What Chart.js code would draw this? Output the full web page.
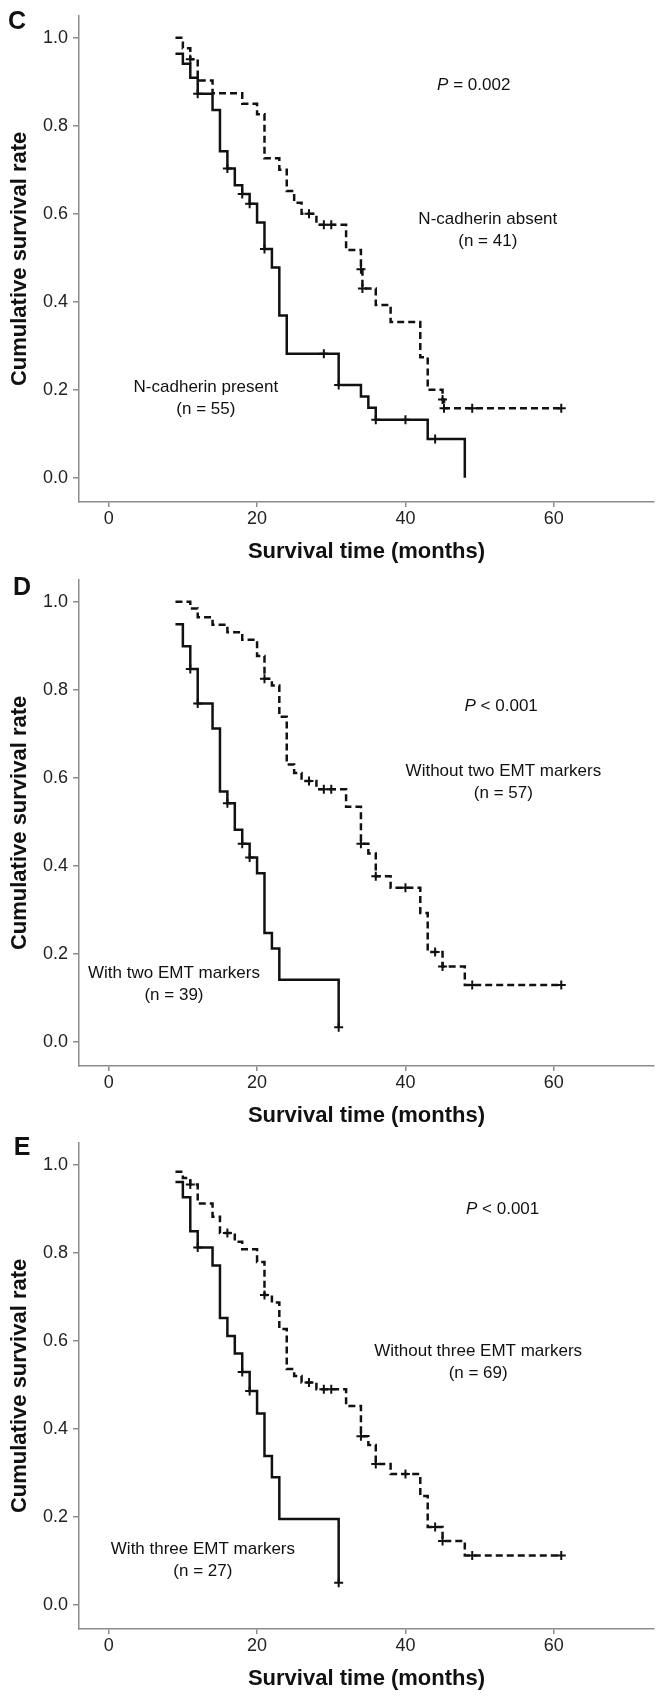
<!DOCTYPE html>
<html lang="en">
<head>
    <meta charset="UTF-8">
    <title>Kaplan-Meier survival curves</title>
    <script src="https://cdn.jsdelivr.net/npm/chart.js@4"></script>
    <style>
        body {
            margin: 0;
            background: #fff;
        }

        .panel {
            position: absolute;
            left: 0;
            width: 666px;
            height: 564px;
        }
    </style>
</head>
<body>
    <div class="panel" style="top:0px"><canvas id="chartC" width="666" height="564"></canvas></div>
    <div class="panel" style="top:564px"><canvas id="chartD" width="666" height="564"></canvas></div>
    <div class="panel" style="top:1127px"><canvas id="chartE" width="666" height="564"></canvas></div>
    <script>
        const xTicks = [0, 20, 40, 60];
        const yTicks = [0, 0.2, 0.4, 0.6, 0.8, 1.0];

        // panel C - N-cadherin
        const cAbsentTime = [9, 10, 11, 12, 14, 18, 20, 21, 23, 24, 25, 26, 28, 32, 34, 34.2, 36, 38, 42, 43, 45, 45.2];
        const cAbsentSurv = [1.0, 0.976, 0.951, 0.903, 0.874, 0.85, 0.826, 0.726, 0.70, 0.652, 0.625, 0.60, 0.575, 0.518, 0.474, 0.43, 0.393, 0.354, 0.274, 0.2, 0.178, 0.158];
        const cAbsentCensorTime = [11, 27, 29, 30, 34, 34.2, 45, 45.2, 49, 61];
        const cAbsentCensorSurv = [0.951, 0.60, 0.575, 0.575, 0.474, 0.43, 0.178, 0.158, 0.158, 0.158];

        const cPresentTime = [9, 10, 11, 12, 14, 15, 16, 17, 18, 19, 20, 21, 22, 23, 24, 31, 34, 35, 36, 43, 48];
        const cPresentSurv = [0.964, 0.941, 0.909, 0.873, 0.836, 0.742, 0.703, 0.665, 0.645, 0.623, 0.58, 0.52, 0.478, 0.369, 0.282, 0.211, 0.185, 0.159, 0.132, 0.088, 0];
        const cPresentCensorTime = [12, 16, 18, 19, 21, 29, 31, 36, 40, 44];
        const cPresentCensorSurv = [0.873, 0.703, 0.645, 0.623, 0.52, 0.282, 0.211, 0.132, 0.132, 0.088];

        // panel D - two EMT markers
        const dWithoutTime = [9, 11, 12, 14, 16, 18, 20, 21, 22, 23, 24, 25, 26, 28, 32, 34, 35, 36, 38, 42, 43, 45, 48];
        const dWithoutSurv = [1.0, 0.985, 0.965, 0.948, 0.931, 0.914, 0.877, 0.825, 0.81, 0.739, 0.63, 0.611, 0.593, 0.574, 0.534, 0.45, 0.428, 0.376, 0.35, 0.293, 0.204, 0.171, 0.129];
        const dWithoutCensorTime = [21, 27, 29, 30, 34, 36, 40, 44, 45, 49, 61];
        const dWithoutCensorSurv = [0.825, 0.593, 0.574, 0.574, 0.45, 0.376, 0.35, 0.204, 0.171, 0.129, 0.129];

        const dWithTime = [9, 10, 11, 12, 14, 15, 16, 17, 18, 19, 20, 21, 22, 23, 31];
        const dWithSurv = [0.949, 0.899, 0.847, 0.769, 0.712, 0.569, 0.542, 0.482, 0.45, 0.419, 0.383, 0.247, 0.212, 0.141, 0.033];
        const dWithCensorTime = [11, 12, 16, 18, 19, 31];
        const dWithCensorSurv = [0.847, 0.769, 0.542, 0.45, 0.419, 0.033];

        // panel E - three EMT markers
        const eWithoutTime = [9, 10, 11, 12, 14, 15, 17, 18, 20, 21, 22, 23, 24, 25, 26, 28, 32, 34, 35, 36, 38, 42, 43, 45, 48];
        const eWithoutSurv = [0.984, 0.97, 0.955, 0.912, 0.882, 0.845, 0.825, 0.808, 0.779, 0.704, 0.687, 0.627, 0.536, 0.52, 0.505, 0.49, 0.452, 0.383, 0.363, 0.32, 0.297, 0.247, 0.177, 0.145, 0.112];
        const eWithoutCensorTime = [11, 16, 21, 27, 29, 30, 34, 36, 40, 44, 45, 49, 61];
        const eWithoutCensorSurv = [0.955, 0.845, 0.704, 0.505, 0.49, 0.49, 0.383, 0.32, 0.297, 0.177, 0.145, 0.112, 0.112];

        const eWithTime = [9, 10, 11, 12, 14, 15, 16, 17, 18, 19, 20, 21, 22, 23, 31];
        const eWithSurv = [0.961, 0.926, 0.849, 0.812, 0.771, 0.652, 0.611, 0.571, 0.529, 0.486, 0.435, 0.338, 0.29, 0.195, 0.05];
        const eWithCensorTime = [12, 18, 19, 31];
        const eWithCensorSurv = [0.812, 0.529, 0.486, 0.05];

        const FONT = '"Liberation Sans", Arial, sans-serif';
        const AXIS_GREY = '#8c8c8c';

        // letters and text labels drawn on top of each chart
        const notesPlugin = {
            id: 'notes',
            afterDraw(chart, args, opts) {
                const ctx = chart.ctx;
                const xs = chart.scales.x;
                const ys = chart.scales.y;
                ctx.save();
                ctx.fillStyle = '#111';
                ctx.textBaseline = 'middle';
                ctx.textAlign = 'center';
                ctx.font = 'bold 25px ' + FONT;
                ctx.fillText(opts.letter, opts.letterX, opts.letterY);

                opts.notes.forEach(n => {
                    const px = xs.getPixelForValue(n.x);
                    const py = ys.getPixelForValue(n.y);
                    n.lines.forEach((line, i) => {
                        const y = py + i * 22;
                        if (line.startsWith('P ')) {
                            // italic P, rest upright
                            ctx.font = 'italic 17px ' + FONT;
                            const wP = ctx.measureText('P').width;
                            ctx.font = '17px ' + FONT;
                            const rest = line.slice(1);
                            const wRest = ctx.measureText(rest).width;
                            const start = px - (wP + wRest) / 2;
                            ctx.textAlign = 'left';
                            ctx.font = 'italic 17px ' + FONT;
                            ctx.fillText('P', start, y);
                            ctx.font = '17px ' + FONT;
                            ctx.fillText(rest, start + wP, y);
                            ctx.textAlign = 'center';
                        } else {
                            ctx.font = '17px ' + FONT;
                            ctx.fillText(line, px, y);
                        }
                    });
                });
                ctx.restore();
            }
        };

        function curve(time, surv, censorTime, dashed) {
            const pts = time.map((t, i) => ({ x: t, y: surv[i] }));
            const lastCensor = censorTime[censorTime.length - 1];
            if (lastCensor > time[time.length - 1]) {
                pts.push({ x: lastCensor, y: surv[surv.length - 1] });
            }
            return {
                type: 'line',
                data: pts,
                stepped: 'before',
                borderColor: '#111',
                borderWidth: 2.5,
                borderDash: dashed ? [7, 4] : [],
                borderCapStyle: 'butt',
                pointRadius: 0,
                fill: false,
                tension: 0
            };
        }

        function censors(time, surv) {
            return {
                type: 'scatter',
                data: time.map((t, i) => ({ x: t, y: surv[i] })),
                pointStyle: 'cross',
                pointRadius: 4.5,
                pointBorderWidth: 2,
                borderColor: '#111',
                backgroundColor: '#111'
            };
        }

        function makeChart(id, datasets, letter, letterX, letterY, notes) {
            return new Chart(document.getElementById(id), {
                type: 'line',
                data: { datasets: datasets },
                options: {
                    responsive: false,
                    animation: false,
                    layout: { padding: { top: 8, right: 12, left: 0, bottom: 0 } },
                    plugins: {
                        legend: { display: false },
                        tooltip: { enabled: false },
                        notes: { letter: letter, letterX: letterX, letterY: letterY, notes: notes }
                    },
                    scales: {
                        x: {
                            type: 'linear',
                            min: -4,
                            max: 73.5,
                            afterBuildTicks: s => { s.ticks = xTicks.map(v => ({ value: v })); },
                            afterFit: s => { s.height = 62; },
                            ticks: {
                                font: { family: FONT, size: 18 },
                                color: '#222',
                                padding: 1,
                                maxRotation: 0,
                                autoSkip: false
                            },
                            grid: { drawOnChartArea: false, tickLength: 5, color: AXIS_GREY, lineWidth: 1.5 },
                            border: { color: AXIS_GREY, width: 1.5 },
                            title: {
                                display: true,
                                text: 'Survival time (months)',
                                color: '#111',
                                font: { family: FONT, size: 22, weight: 'bold', lineHeight: 1 },
                                padding: { top: 0, bottom: 1 }
                            }
                        },
                        y: {
                            type: 'linear',
                            min: -0.055,
                            max: 1.05,
                            afterBuildTicks: s => { s.ticks = yTicks.map(v => ({ value: v })); },
                            afterFit: s => { s.width = 79; },
                            ticks: {
                                font: { family: FONT, size: 18 },
                                color: '#222',
                                padding: 5,
                                callback: v => v.toFixed(1)
                            },
                            grid: { drawOnChartArea: false, tickLength: 6, color: AXIS_GREY, lineWidth: 1.5 },
                            border: { color: AXIS_GREY, width: 1.5 },
                            title: {
                                display: true,
                                text: 'Cumulative survival rate',
                                color: '#111',
                                font: { family: FONT, size: 22, weight: 'bold', lineHeight: 1 },
                                padding: { top: 9, bottom: 0 }
                            }
                        }
                    }
                },
                plugins: [notesPlugin]
            });
        }

        window.onload = () => {
            makeChart('chartC', [
                curve(cAbsentTime, cAbsentSurv, cAbsentCensorTime, true),
                censors(cAbsentCensorTime, cAbsentCensorSurv),
                curve(cPresentTime, cPresentSurv, cPresentCensorTime, false),
                censors(cPresentCensorTime, cPresentCensorSurv)
            ], 'C', 17, 22, [
                { x: 49.2, y: 0.892, lines: ['P = 0.002'] },
                { x: 51.1, y: 0.587, lines: ['N-cadherin absent', '(n = 41)'] },
                { x: 13.1, y: 0.206, lines: ['N-cadherin present', '(n = 55)'] }
            ]);

            makeChart('chartD', [
                curve(dWithoutTime, dWithoutSurv, dWithoutCensorTime, true),
                censors(dWithoutCensorTime, dWithoutCensorSurv),
                curve(dWithTime, dWithSurv, dWithCensorTime, false),
                censors(dWithCensorTime, dWithCensorSurv)
            ], 'D', 22, 24, [
                { x: 52.9, y: 0.763, lines: ['P < 0.001'] },
                { x: 53.2, y: 0.614, lines: ['Without two EMT markers', '(n = 57)'] },
                { x: 8.8, y: 0.156, lines: ['With two EMT markers', '(n = 39)'] }
            ]);

            makeChart('chartE', [
                curve(eWithoutTime, eWithoutSurv, eWithoutCensorTime, true),
                censors(eWithoutCensorTime, eWithoutCensorSurv),
                curve(eWithTime, eWithSurv, eWithCensorTime, false),
                censors(eWithCensorTime, eWithCensorSurv)
            ], 'E', 22, 21, [
                { x: 53.1, y: 0.898, lines: ['P < 0.001'] },
                { x: 49.8, y: 0.577, lines: ['Without three EMT markers', '(n = 69)'] },
                { x: 12.7, y: 0.126, lines: ['With three EMT markers', '(n = 27)'] }
            ]);
        };
    </script>
</body>
</html>
